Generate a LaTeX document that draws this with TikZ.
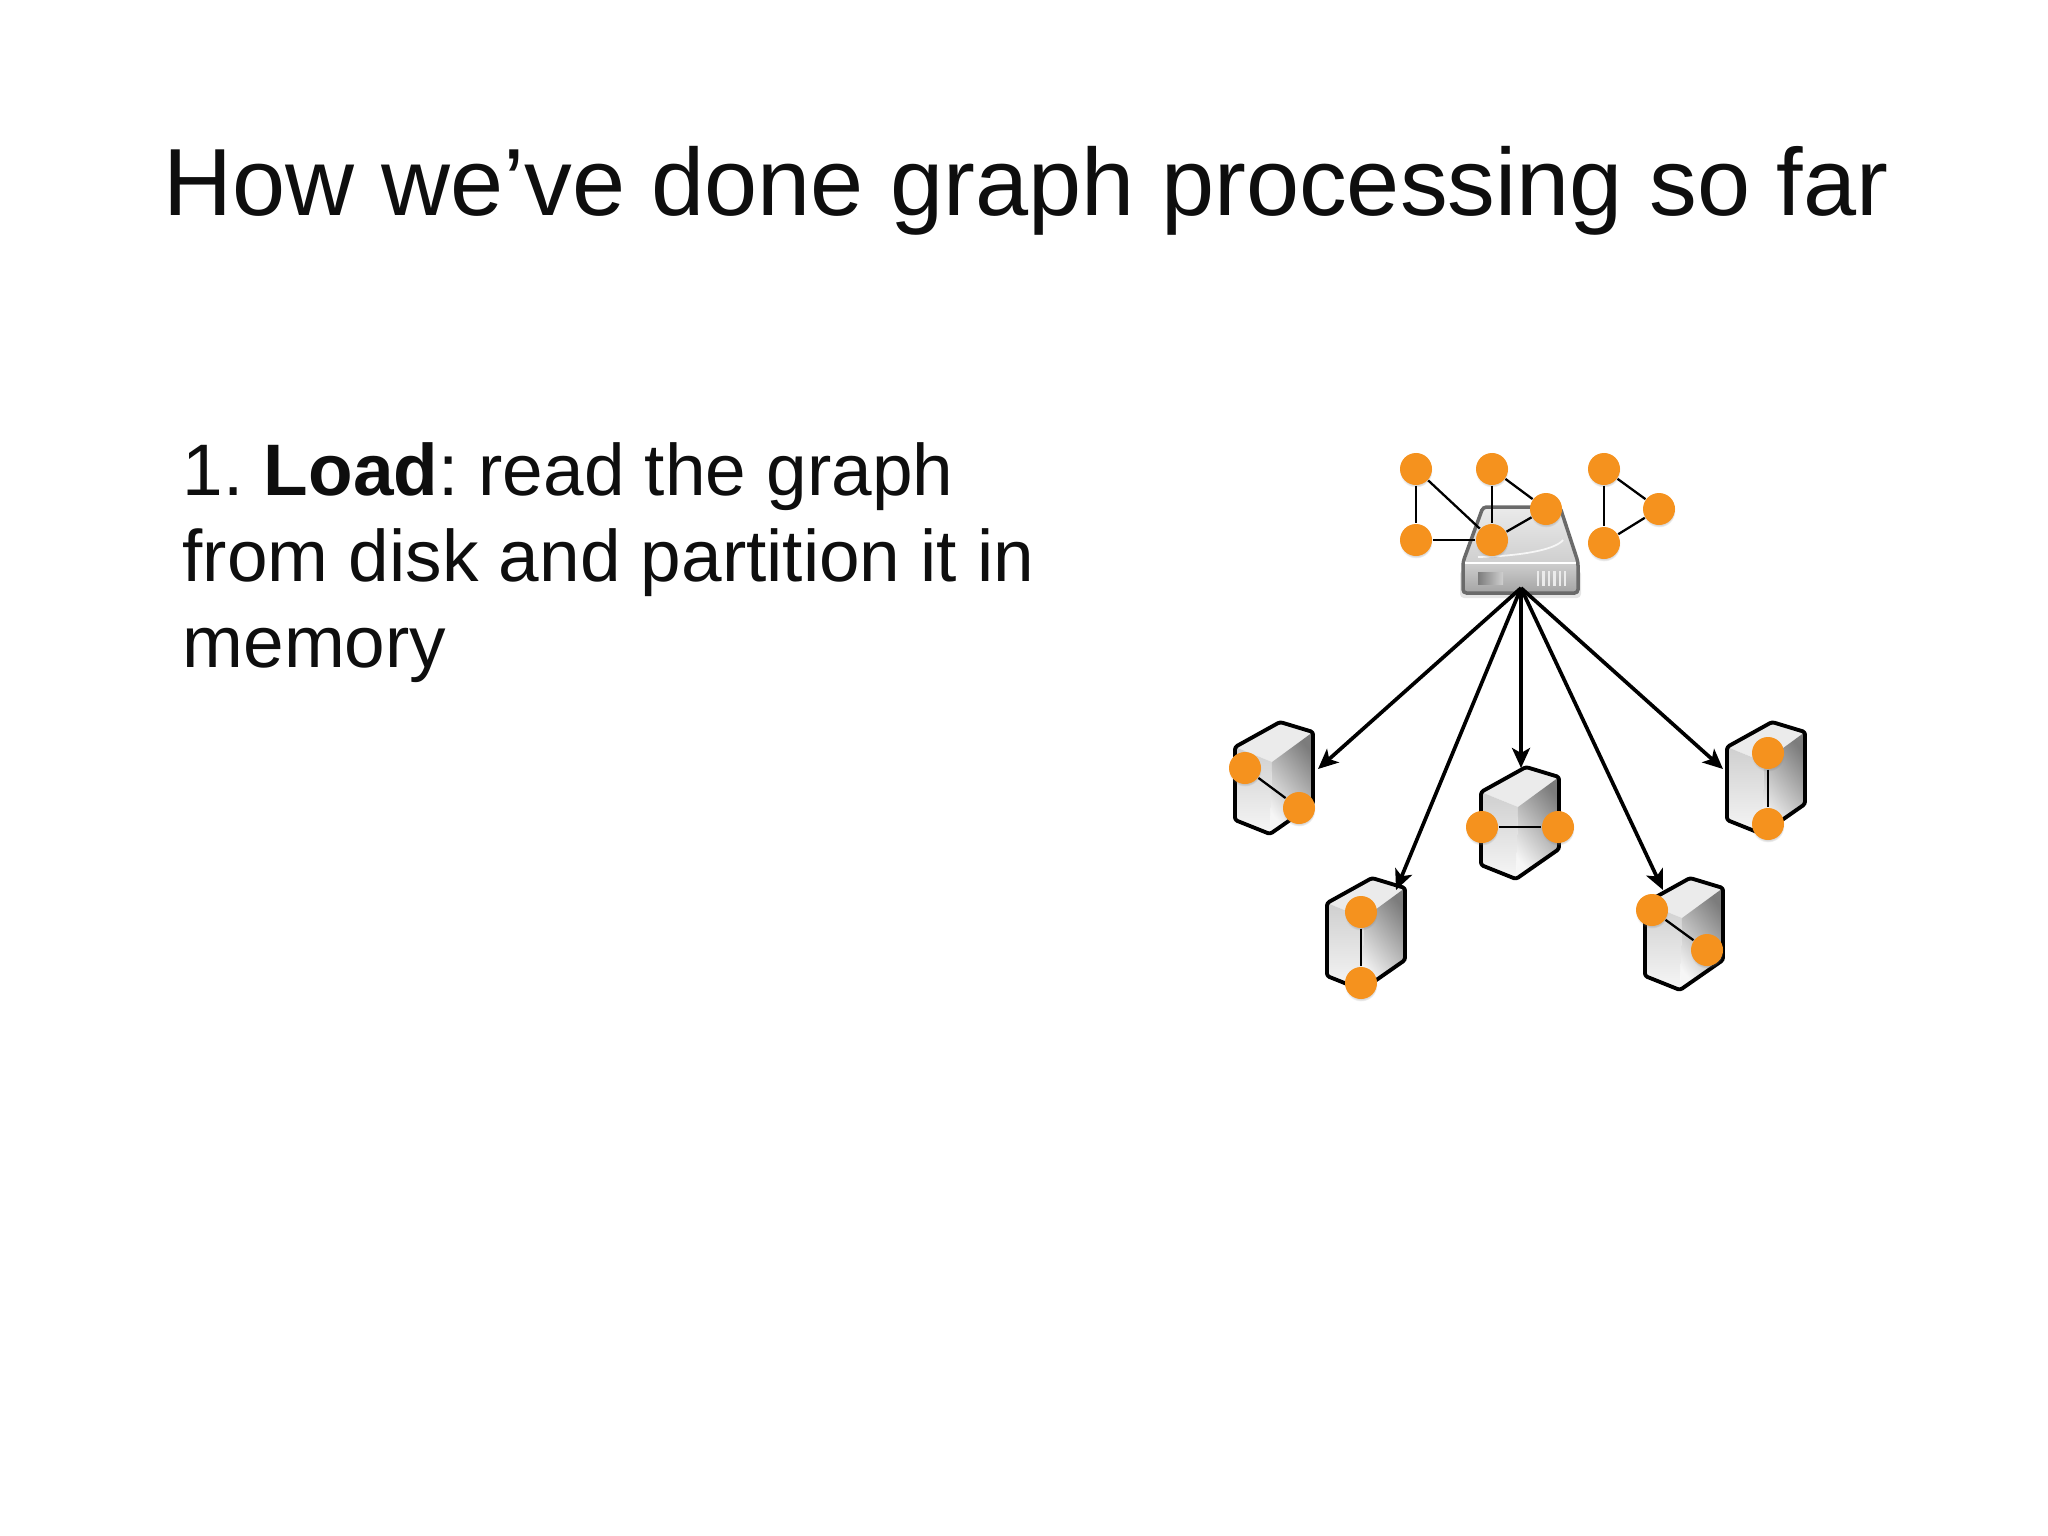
\documentclass[tikz,border=0pt]{standalone}
\usepackage{fontspec}
\setmainfont{Liberation Sans}
\frenchspacing
\usetikzlibrary{arrows.meta,shadows}
\definecolor{ink}{HTML}{0E0E0E}
\definecolor{vertexfill}{HTML}{F5921E}
\definecolor{diskline}{HTML}{6A6A6A}
\definecolor{facetop}{HTML}{EBEBEB}
\definecolor{facelight}{HTML}{F6F6F6}
\definecolor{facemid}{HTML}{CFCFCF}
\definecolor{facedark}{HTML}{7C7C7C}
\newcommand{\headsize}{\fontsize{27.15}{34}\selectfont}
\newcommand{\bodysize}{\fontsize{20.75}{24.5}\selectfont}
\tikzset{
 every node/.append style={text=ink},
 title/.style={font=\headsize,inner sep=0pt},
 body/.style={font=\bodysize,inner sep=0pt,align=left},
 vertex/.style={circle,fill=vertexfill,minimum size=3.2mm,inner sep=0pt,
  circular drop shadow={shadow xshift=0mm,shadow yshift=-.2mm,shadow scale=1.03,opacity=.3}},
 edge/.style={draw=black,line width=.65pt},
 flow/.style={-{Stealth[length=2mm,width=1.8mm,inset=.5mm]},draw=black,line width=1.05pt},
 serverline/.style={draw=black,line width=1.1pt,rounded corners=.25mm,line join=round},
 serverbox/.pic={
  \fill[facetop] (0,0) -- (45,-25) -- (78,-15) -- (37,15) -- cycle;
  \shade[top color=facemid,bottom color=facelight] (0,0) -- (37,15) -- (35,87) -- (0,73) -- cycle;
  \shade[top color=facedark,bottom color=facelight,shading angle=-50] (37,15) -- (78,-15) -- (78,57) -- (35,87) -- cycle;
  \draw[serverline] (0,0) -- (45,-25) -- (78,-15) -- (78,57) -- (35,87) -- (0,73) -- cycle;
 },
}

\begin{document}
\begin{tikzpicture}[x=.01cm,y=-.01cm]

\useasboundingbox (0,0) rectangle (2048,1536);
\node[title,anchor=base west] (head) at (163,215) {How we’ve done graph processing so far};
\node[body,anchor=north west] (text) at (182,442) {1. \textbf{Load}: read the graph\\from disk and partition it in\\memory};

\fill[black,opacity=.1,rounded corners=.4mm] (1460,570) rectangle (1581,598);
\shade[top color=facetop,bottom color=facemid,rounded corners=.2mm] (1483,507) -- (1560,507) -- (1577,562) -- (1465,562) -- cycle;
\draw[facelight,line width=.5pt] (1478,557) .. controls (1520,556) and (1555,550) .. (1563,540);
\shade[top color=facemid,bottom color=facedark!70,rounded corners=.2mm] (1463,562) rectangle (1578,593);
\draw[diskline,line width=1pt,rounded corners=.35mm] (1483,507) -- (1560,507) -- (1578,562) -- (1578,593) -- (1463,593) -- (1463,562) -- cycle;
\draw[white,line width=.7pt] (1465,563) -- (1576,563);
\shade[left color=facedark,right color=facemid] (1478,572) rectangle (1503,584);
\foreach \ventx in {1538,1543.5,1549,1554.5,1560,1565}
 \draw[facetop,line width=.7pt] (\ventx,571) -- (\ventx,586);

\pic at (1235,747) {serverbox};
\pic at (1327,903) {serverbox};
\pic at (1481,792) {serverbox};
\pic at (1645,903) {serverbox};
\pic at (1727,747) {serverbox};

\node[vertex] (a) at (1416,469) {};
\node[vertex] (b) at (1416,540) {};
\node[vertex] (c) at (1492,469) {};
\node[vertex] (d) at (1492,540) {};
\node[vertex] (e) at (1546,509) {};
\node[vertex] (f) at (1604,469) {};
\node[vertex] (g) at (1604,543) {};
\node[vertex] (h) at (1659,509) {};
\node[vertex] (s1a) at (1245,768) {};
\node[vertex] (s1b) at (1299,808) {};
\node[vertex] (s2a) at (1361,912) {};
\node[vertex] (s2b) at (1361,983) {};
\node[vertex] (s3a) at (1482,827) {};
\node[vertex] (s3b) at (1558,827) {};
\node[vertex] (s4a) at (1652,910) {};
\node[vertex] (s4b) at (1707,950) {};
\node[vertex] (s5a) at (1768,753) {};
\node[vertex] (s5b) at (1768,824) {};
\foreach \from/\to in {a/b,a/d,b/d,c/d,c/e,d/e,f/g,f/h,g/h,s1a/s1b,s2a/s2b,s3a/s3b,s4a/s4b,s5a/s5b}
 \draw[edge] (\from) -- (\to);

\coordinate (disk) at (1521,588);
\coordinate (tip1) at (1318,769);
\coordinate (tip2) at (1396,890);
\coordinate (tip3) at (1521,768);
\coordinate (tip4) at (1663,890);
\coordinate (tip5) at (1723,769);
\foreach \tip in {tip1,tip2,tip3,tip4,tip5}
 \draw[flow] (disk) -- (\tip);

\end{tikzpicture}
\end{document}
